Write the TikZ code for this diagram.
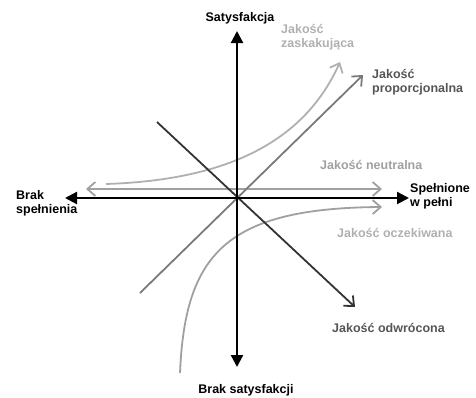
\documentclass[tikz,border=0pt]{standalone}
\usepackage{fontspec}
\setmainfont{Liberation Sans}
\usetikzlibrary{arrows.meta}
\definecolor{jasny}{HTML}{B0B0B0}
\definecolor{sredni}{HTML}{A0A0A0}
\definecolor{ciemny}{HTML}{7A7A7A}
\definecolor{czarny}{HTML}{333333}
\definecolor{napis}{HTML}{555555}
\tikzset{
    os/.style={line width=2.2pt, {Triangle[length=12pt,width=12pt]}-{Triangle[length=12pt,width=12pt]}},
    krzywa/.style={line width=1.8pt, -{Straight Barb[length=8pt,width=14pt]}},
    opis/.style={font=\bfseries\fontsize{12.5}{14.5}\selectfont, inner sep=0pt, align=left, anchor=west}
}
\begin{document}
\begin{tikzpicture}[x=1pt,y=-1pt]
  \useasboundingbox (0,0) rectangle (476,397);
  \coordinate (g) at (237,31);
  \coordinate (d) at (237,367);
  \coordinate (l) at (65,198);
  \coordinate (p) at (409,198);
  \coordinate (z0) at (106,184);
  \coordinate (z1) at (340,62);
  \coordinate (pr0) at (140,293);
  \coordinate (pr1) at (363,75);
  \coordinate (od0) at (157,122);
  \coordinate (od1) at (355,307);
  \coordinate (n0) at (86,189);
  \coordinate (n1) at (382,189);
  \coordinate (o0) at (180,373);
  \coordinate (o1) at (382,207);

  \node (sat) [font=\bfseries\fontsize{12.5}{14.5}\selectfont, inner sep=0pt] at (240,18) {Satysfakcja};
  \node (braksat) [font=\bfseries\fontsize{12.5}{14.5}\selectfont, inner sep=0pt] at (246,390) {Brak satysfakcji};
  \node (brak) [opis] at (16,203.5) {Brak\\spełnienia};
  \node (spel) [opis] at (410,196.5) {Spełnione\\w pełni};
  \node (zask) [opis, text=jasny] at (281,37) {Jakość\\zaskakująca};
  \node (prop) [opis, text=napis] at (372,82) {Jakość\\proporcjonalna};
  \node (neut) [opis, text=sredni] at (320,165) {Jakość neutralna};
  \node (ocz) [opis, text=jasny] at (337,233) {Jakość oczekiwana};
  \node (odw) [opis, text=napis] at (332,328) {Jakość odwrócona};

  \draw [krzywa, sredni, {Straight Barb[length=8pt,width=14pt]}-{Straight Barb[length=8pt,width=14pt]}] (n0) -- (n1);
  \draw [krzywa, jasny] (z0) .. controls (230,180) and (305,140) .. (z1);
  \draw [krzywa, sredni] (o0) .. controls (185,255) and (225,208) .. (o1);
  \draw [krzywa, ciemny] (pr0) -- (pr1);
  \draw [krzywa, czarny] (od0) -- (od1);
  \draw [os] (l) -- (p);
  \draw [os] (d) -- (g);
\end{tikzpicture}
\end{document}
